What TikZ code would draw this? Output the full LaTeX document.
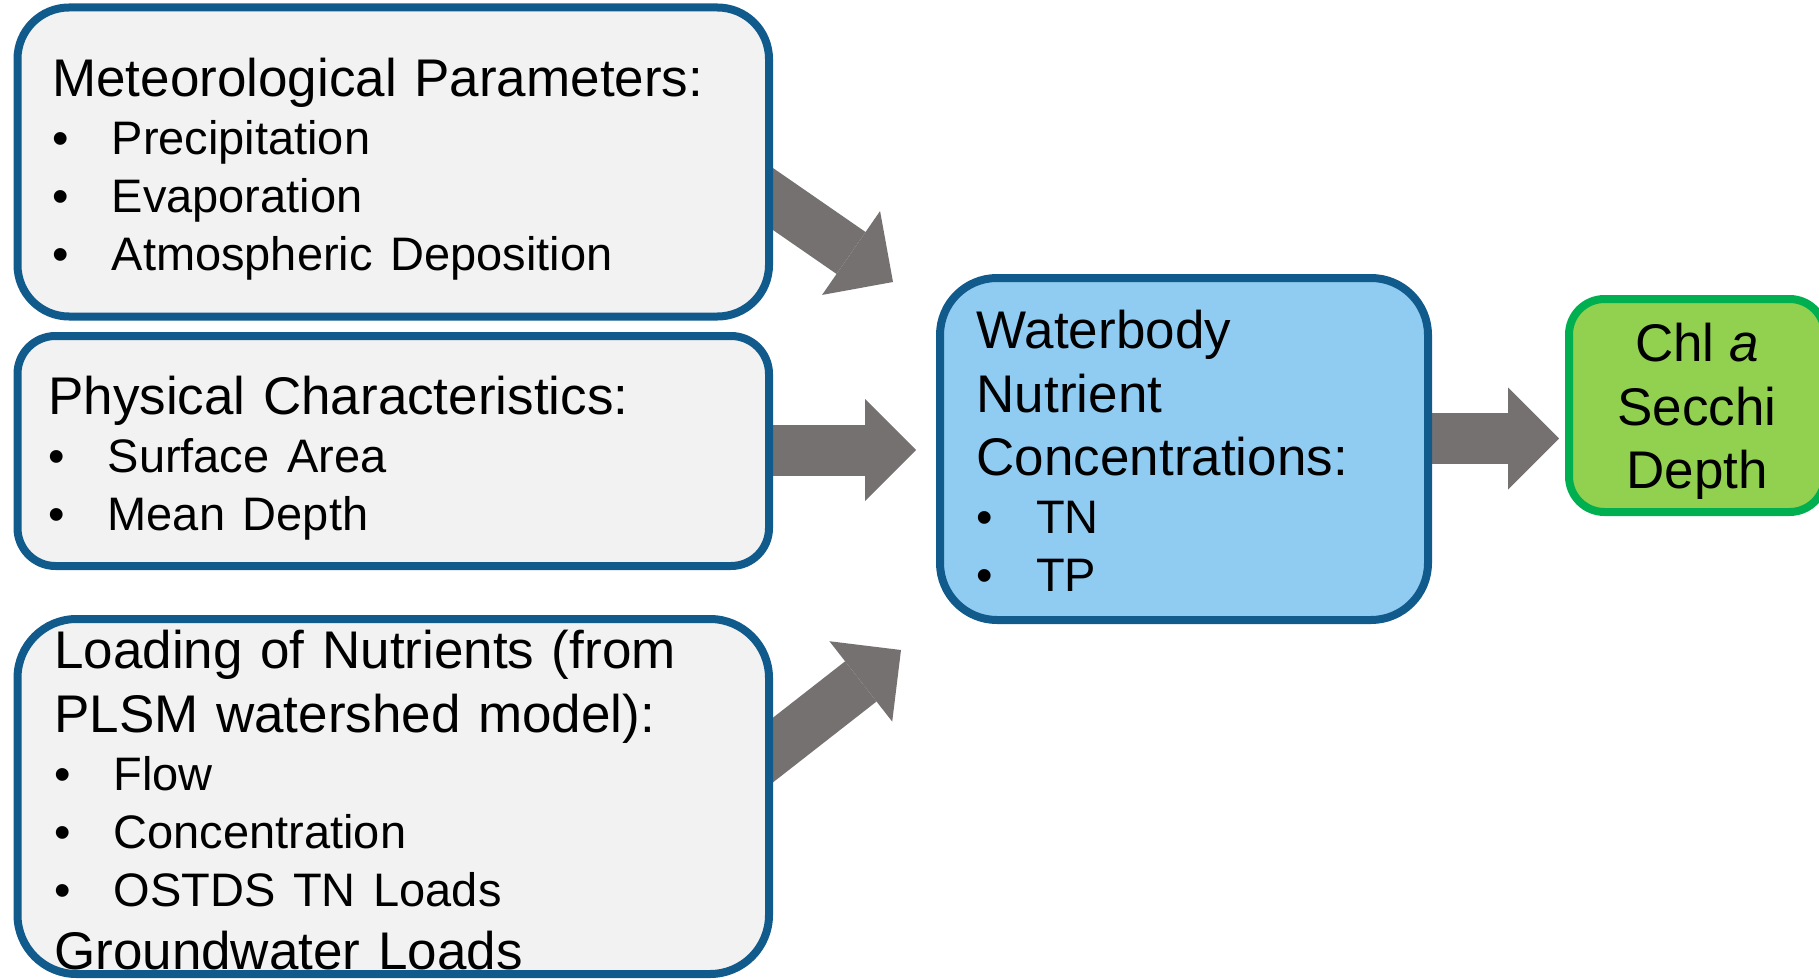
\documentclass[tikz,border=0pt]{standalone}
\usepackage{fontspec}
\setmainfont{Liberation Sans}
\usepackage{xcolor}
\usepackage{tikz}
\usetikzlibrary{arrows.meta,positioning}

\definecolor{panelgray}{HTML}{F2F2F2}
\definecolor{panelblue}{RGB}{17,90,140}
\definecolor{waterblue}{RGB}{144,204,242}
\definecolor{chlgreen}{HTML}{92D050}
\definecolor{chlborder}{HTML}{00B050}
\definecolor{arrowgray}{HTML}{767171}

\setlength{\parindent}{0pt}
\setlength{\parskip}{0pt}

\newcommand{\hd}{\fontsize{53}{63.5}\selectfont}
\newcommand{\bl}{\fontsize{47}{58}\selectfont}
\newcommand{\itm}[1]{{\bl\makebox[59.5pt][l]{\textbullet}#1\par}}

\begin{document}
\begin{tikzpicture}[x=1pt, y=-1pt,
  panel/.style={draw=panelblue, line width=8pt, fill=panelgray, inner sep=0pt},
  txt/.style={anchor=north west, inner sep=0pt, text width=720pt, align=left, font=\hd},
  bigarrow/.style={draw=arrowgray, line width=51pt,
    -{Triangle[length=51pt, width=102pt, line width=0pt]}}]

  \useasboundingbox (0,0) rectangle (1819,979);

  % arrows first, the boxes hide their tails
  \coordinate (metfrom) at (740,176.2);
  \coordinate (metto) at (893,282);
  \coordinate (physfrom) at (740,450);
  \coordinate (physto) at (916,450);
  \coordinate (loadfrom) at (740,775.8);
  \coordinate (loadto) at (901,650);
  \coordinate (waterfrom) at (1400,438.5);
  \coordinate (waterto) at (1559,438.5);

  \draw[bigarrow] (metfrom) -- (metto);
  \draw[bigarrow] (physfrom) -- (physto);
  \draw[bigarrow] (loadfrom) -- (loadto);
  \draw[bigarrow] (waterfrom) -- (waterto);

  % boxes
  \node[panel, rounded corners=51.5pt, minimum width=751.5pt, minimum height=309pt] (met) at (393.25,162) {};
  \node[panel, rounded corners=38pt, minimum width=751.5pt, minimum height=230pt] (phys) at (393.25,451) {};
  \node[panel, rounded corners=59pt, minimum width=751.5pt, minimum height=355pt] (load) at (393.25,796.5) {};
  \node[panel, fill=waterblue, rounded corners=57pt, minimum width=488pt, minimum height=342pt] (water) at (1184,449) {};
  \node[panel, draw=chlborder, fill=chlgreen, rounded corners=35.5pt, minimum width=256pt, minimum height=213pt] (chl) at (1697,405.5) {};

  % texts
  \node[txt, below right=48.5pt and 38.5pt of met.north west] (mettext) {%
    {\hd\strut Meteorological Parameters:\par}
    \itm{Precipitation}
    \itm{Evaporation}
    \itm{Atmospheric Deposition}};
  \node[txt, below right=38pt and 34.5pt of phys.north west] (phystext) {%
    {\hd\strut Physical Characteristics:\par}
    \itm{Surface Area}
    \itm{Mean Depth}};
  \node[txt, below right=9pt and 40.5pt of load.north west] (loadtext) {%
    {\hd\strut Loading of Nutrients (from\\PLSM watershed model):\par}
    \itm{Flow}
    \itm{Concentration}
    \itm{OSTDS TN Loads}
    {\hd Groundwater Loads\par}};
  \node[txt, text width=440pt, below right=30pt and 40.5pt of water.north west] (watertext) {%
    {\hd\strut Waterbody\\Nutrient\\Concentrations:\par}
    \itm{TN}
    \itm{TP}};
  \node[inner sep=0pt, align=center, font=\hd, below=22pt of chl.north] (chltext) {\strut Chl \textit{a}\\Secchi\\Depth};
\end{tikzpicture}
\end{document}
